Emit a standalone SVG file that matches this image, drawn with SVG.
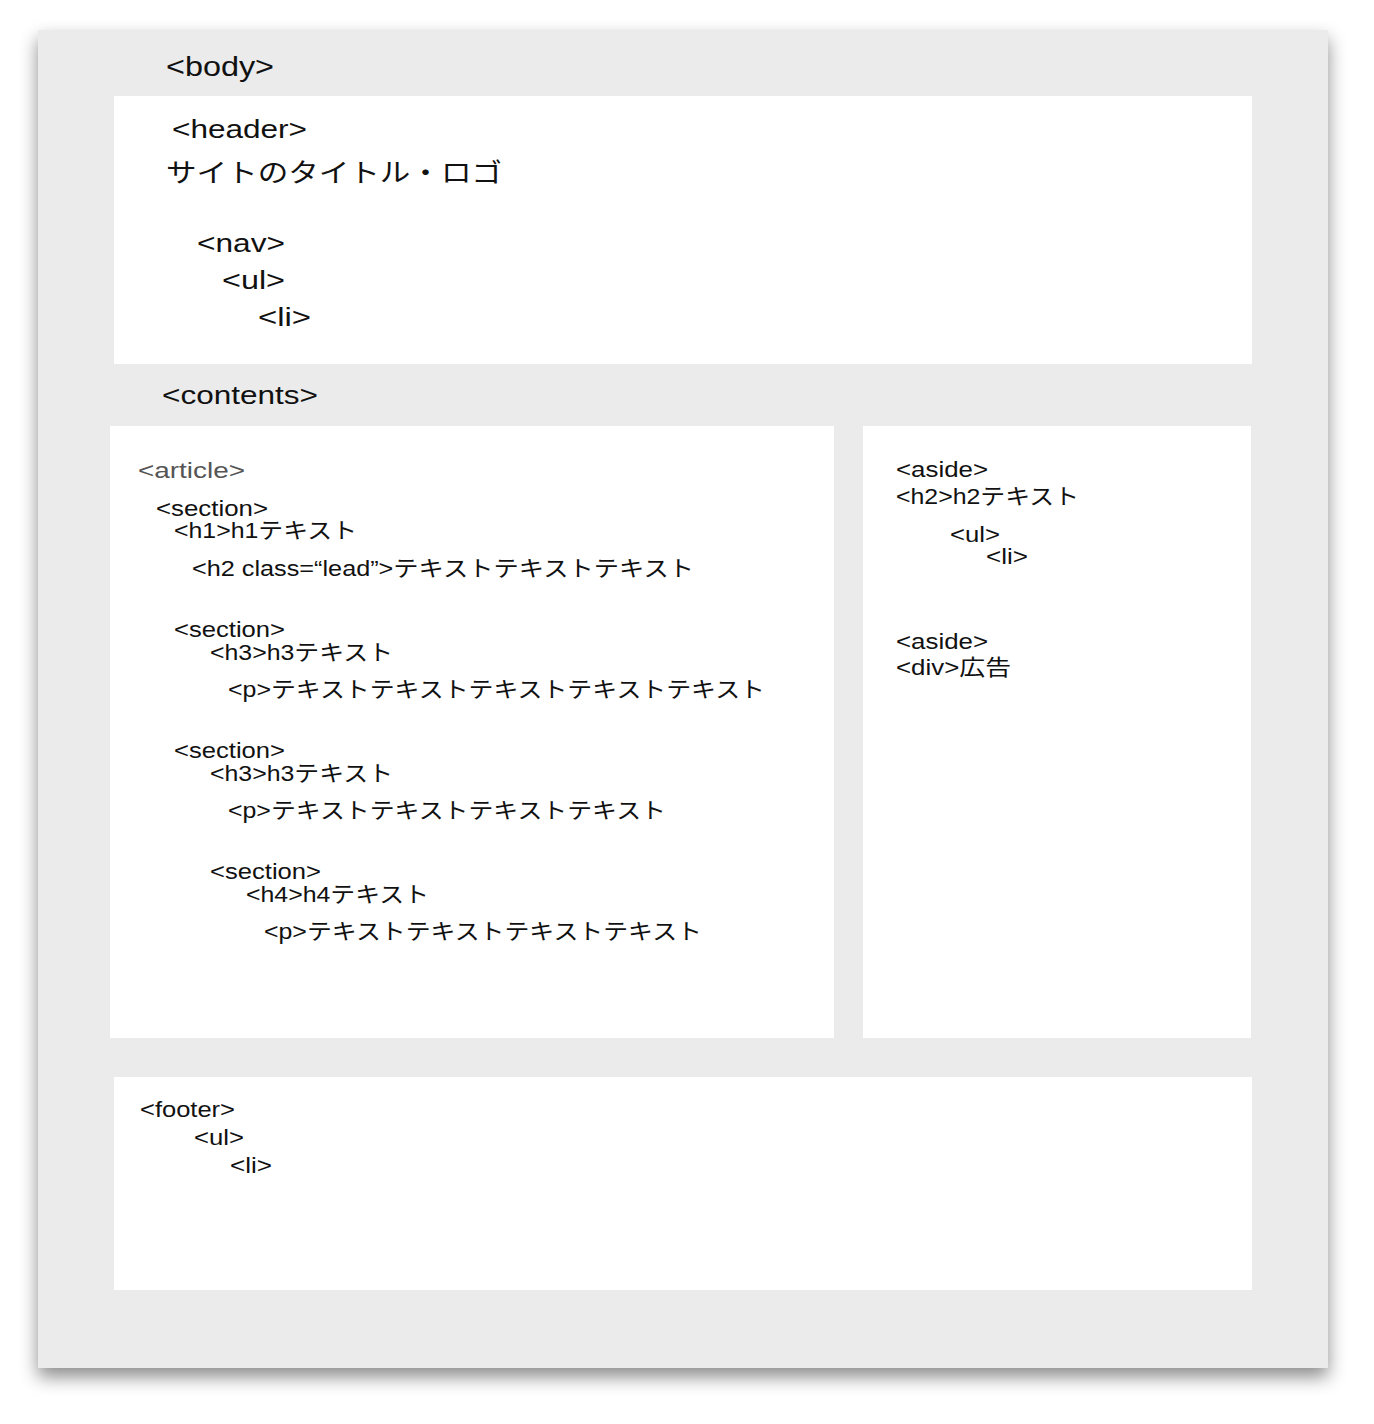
<svg xmlns="http://www.w3.org/2000/svg" width="1374" height="1424" viewBox="0 0 1374 1424">
<style>
text{font-family:"Liberation Sans","Noto Sans CJK JP",sans-serif;fill:#111}
.l{font-size:28px}
.m{font-size:26px}
.s{font-size:22px}
.g{fill:#555}
.box{fill:#fff}
</style>
<defs>
<filter id="sh" x="-5%" y="-5%" width="110%" height="112%">
<feDropShadow dx="0" dy="9" stdDeviation="9" flood-color="#000" flood-opacity="0.45"/>
</filter>
</defs>
<rect width="1374" height="1424" fill="#fff"/>
<g id="body">
<rect x="38" y="30" width="1290" height="1338" fill="#ebebeb" filter="url(#sh)"/>
<text class="l" x="166" y="76" textLength="108" lengthAdjust="spacingAndGlyphs">&lt;body&gt;</text>
</g>
<g id="header">
<rect class="box" x="114" y="96" width="1138" height="268"/>
<text class="m" x="172" y="138" textLength="135" lengthAdjust="spacingAndGlyphs">&lt;header&gt;</text>
<text class="m" x="166" y="182" textLength="336" lengthAdjust="spacingAndGlyphs">サイトのタイトル・ロゴ</text>
<text class="m" x="197" y="252" textLength="88" lengthAdjust="spacingAndGlyphs">&lt;nav&gt;</text>
<text class="m" x="222" y="289" textLength="63" lengthAdjust="spacingAndGlyphs">&lt;ul&gt;</text>
<text class="m" x="258" y="326" textLength="53" lengthAdjust="spacingAndGlyphs">&lt;li&gt;</text>
</g>
<g id="contents-label">
<text class="m" x="162" y="404" textLength="156" lengthAdjust="spacingAndGlyphs">&lt;contents&gt;</text>
</g>
<g id="article">
<rect class="box" x="110" y="426" width="724" height="612"/>
<text class="s g" x="138" y="478" textLength="107" lengthAdjust="spacingAndGlyphs">&lt;article&gt;</text>
<text class="s" x="156" y="516" textLength="112" lengthAdjust="spacingAndGlyphs">&lt;section&gt;</text>
<text class="s" x="174" y="538" textLength="183" lengthAdjust="spacingAndGlyphs">&lt;h1&gt;h1テキスト</text>
<text class="s" x="192" y="576" textLength="502" lengthAdjust="spacingAndGlyphs">&lt;h2 class=“lead”&gt;テキストテキストテキスト</text>
<text class="s" x="174" y="637" textLength="111" lengthAdjust="spacingAndGlyphs">&lt;section&gt;</text>
<text class="s" x="210" y="660" textLength="183" lengthAdjust="spacingAndGlyphs">&lt;h3&gt;h3テキスト</text>
<text class="s" x="228" y="697" textLength="537" lengthAdjust="spacingAndGlyphs">&lt;p&gt;テキストテキストテキストテキストテキスト</text>
<text class="s" x="174" y="758" textLength="111" lengthAdjust="spacingAndGlyphs">&lt;section&gt;</text>
<text class="s" x="210" y="781" textLength="183" lengthAdjust="spacingAndGlyphs">&lt;h3&gt;h3テキスト</text>
<text class="s" x="228" y="818" textLength="438" lengthAdjust="spacingAndGlyphs">&lt;p&gt;テキストテキストテキストテキスト</text>
<text class="s" x="210" y="879" textLength="111" lengthAdjust="spacingAndGlyphs">&lt;section&gt;</text>
<text class="s" x="246" y="902" textLength="183" lengthAdjust="spacingAndGlyphs">&lt;h4&gt;h4テキスト</text>
<text class="s" x="264" y="939" textLength="438" lengthAdjust="spacingAndGlyphs">&lt;p&gt;テキストテキストテキストテキスト</text>
</g>
<g id="aside">
<rect class="box" x="863" y="426" width="388" height="612"/>
<text class="s" x="896" y="477" textLength="92" lengthAdjust="spacingAndGlyphs">&lt;aside&gt;</text>
<text class="s" x="896" y="504" textLength="183" lengthAdjust="spacingAndGlyphs">&lt;h2&gt;h2テキスト</text>
<text class="s" x="950" y="542" textLength="50" lengthAdjust="spacingAndGlyphs">&lt;ul&gt;</text>
<text class="s" x="986" y="564" textLength="42" lengthAdjust="spacingAndGlyphs">&lt;li&gt;</text>
<text class="s" x="896" y="649" textLength="92" lengthAdjust="spacingAndGlyphs">&lt;aside&gt;</text>
<text class="s" x="896" y="675" textLength="115" lengthAdjust="spacingAndGlyphs">&lt;div&gt;広告</text>
</g>
<g id="footer">
<rect class="box" x="114" y="1077" width="1138" height="213"/>
<text class="s" x="140" y="1117" textLength="95" lengthAdjust="spacingAndGlyphs">&lt;footer&gt;</text>
<text class="s" x="194" y="1145" textLength="50" lengthAdjust="spacingAndGlyphs">&lt;ul&gt;</text>
<text class="s" x="230" y="1173" textLength="42" lengthAdjust="spacingAndGlyphs">&lt;li&gt;</text>
</g>
<g id="connectors"></g>
</svg>
